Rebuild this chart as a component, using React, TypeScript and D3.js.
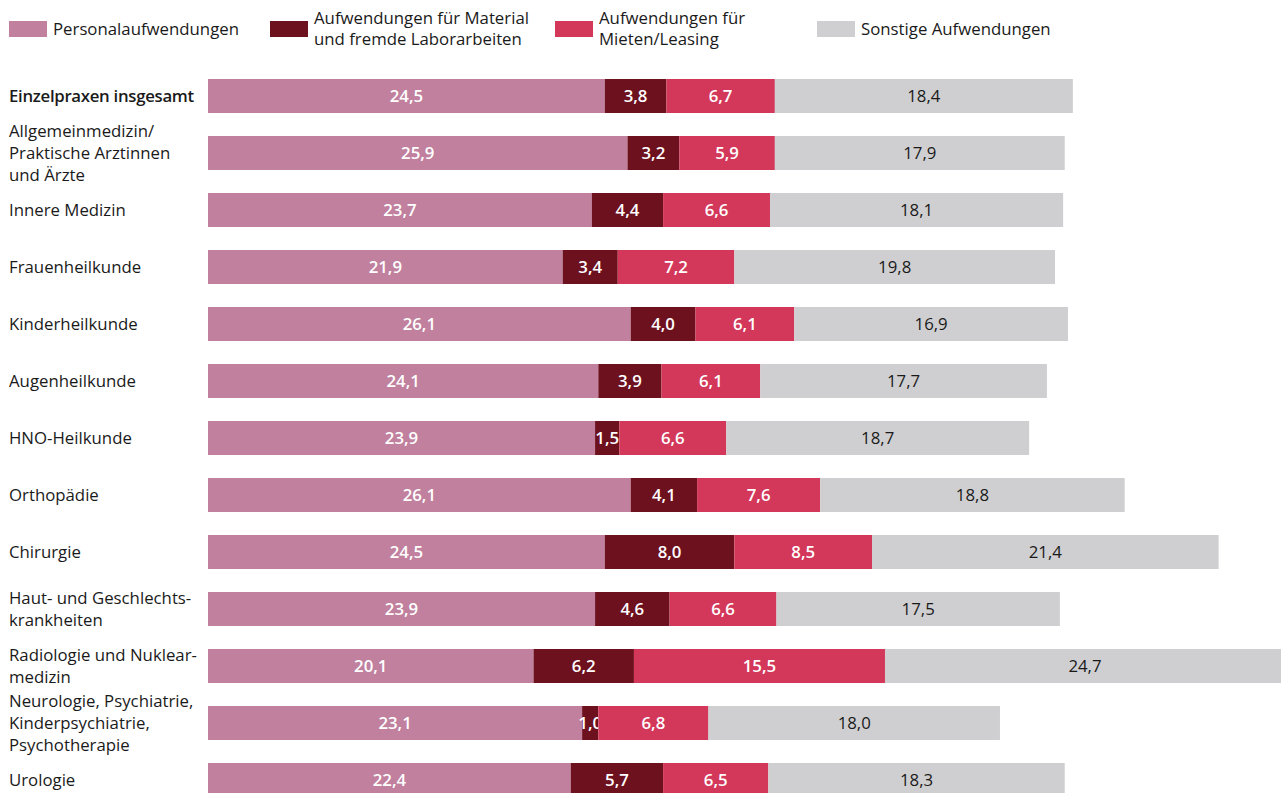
import React from 'react';
import * as d3 from 'd3';

const categories = [
  'Einzelpraxen insgesamt',
  'Allgemeinmedizin/\nPraktische Arztinnen\nund Ärzte',
  'Innere Medizin',
  'Frauenheilkunde',
  'Kinderheilkunde',
  'Augenheilkunde',
  'HNO-Heilkunde',
  'Orthopädie',
  'Chirurgie',
  'Haut- und Geschlechts-\nkrankheiten',
  'Radiologie und Nuklear-\nmedizin',
  'Neurologie, Psychiatrie,\nKinderpsychiatrie,\nPsychotherapie',
  'Urologie',
];

const seriesNames = [
  'Personalaufwendungen',
  'Aufwendungen für Material\nund fremde Laborarbeiten',
  'Aufwendungen für\nMieten/Leasing',
  'Sonstige Aufwendungen',
];

const personal = [24.5, 25.9, 23.7, 21.9, 26.1, 24.1, 23.9, 26.1, 24.5, 23.9, 20.1, 23.1, 22.4];
const material = [3.8, 3.2, 4.4, 3.4, 4.0, 3.9, 1.5, 4.1, 8.0, 4.6, 6.2, 1.0, 5.7];
const mieten = [6.7, 5.9, 6.6, 7.2, 6.1, 6.1, 6.6, 7.6, 8.5, 6.6, 15.5, 6.8, 6.5];
const sonstige = [18.4, 17.9, 18.1, 19.8, 16.9, 17.7, 18.7, 18.8, 21.4, 17.5, 24.7, 18.0, 18.3];

const colors = ['#c0809e', '#6e111f', '#d3375a', '#cfcfd1'];
const textColors = ['#ffffff', '#ffffff', '#ffffff', '#1a1a1a'];

const width = 1281;
const height = 793;
const font = '"Open Sans", sans-serif';
const fs = 16.8;

const locale = d3.formatLocale({ decimal: ',', thousands: '.', grouping: [3], currency: ['', ' €'] });
const fmt = locale.format('.1f');

export default function App() {
  const rows = categories.map((c, i) => ({ label: c, values: [personal[i], material[i], mieten[i], sonstige[i]] }));
  const stack = d3.stack<number[]>().keys(['0', '1', '2', '3']).value((d, k) => d[+k]);
  const series = stack(rows.map(r => r.values));

  const x = d3.scaleLinear().domain([0, 66.5]).range([208, 1285]);
  const y = d3.scaleBand<number>()
    .domain(d3.range(categories.length))
    .range([79 - 11.5, 79 - 11.5 + 57 * categories.length])
    .paddingInner(23 / 57)
    .paddingOuter(11.5 / 57);

  const legendX = [9, 270, 555, 817];

  return (
    <div>
      <style>{'body{margin:0}'}</style>
      <svg width={width} height={height} style={{ display: 'block', fontFamily: font }}>
        {seriesNames.map((name, k) => {
          const lines = name.split('\n');
          return (
            <g key={name} transform={`translate(${legendX[k]},0)`}>
              <rect x={0} y={21} width={38} height={16} fill={colors[k]} />
              {lines.map((l, j) => (
                <text key={j} x={44} y={29 + (j - (lines.length - 1) / 2) * 21} dy="0.35em" fontSize={fs} fill="#1a1a1a">
                  {l}
                </text>
              ))}
            </g>
          );
        })}

        {rows.map((r, i) => {
          const lines = r.label.split('\n');
          const cy = (y(i) as number) + y.bandwidth() / 2;
          return lines.map((l, j) => (
            <text key={`${i}-${j}`} x={9} y={cy + (j - (lines.length - 1) / 2) * 22} dy="0.35em"
              fontSize={fs} fill="#1a1a1a" fontWeight={i === 0 ? 600 : 400}
              letterSpacing={i === 0 ? -0.3 : 0}>
              {l}
            </text>
          ));
        })}

        {series.map((s, k) => (
          <g key={k}>
            {s.map((d, i) => (
              <rect key={i} x={x(d[0])} y={y(i)} width={x(d[1]) - x(d[0])} height={y.bandwidth()} fill={colors[k]} />
            ))}
            {s.map((d, i) => (
              <text key={`t${i}`} x={(x(d[0]) + x(d[1])) / 2} y={(y(i) as number) + y.bandwidth() / 2} dy="0.35em"
                textAnchor="middle" fontSize={fs} fontWeight={k < 3 ? 600 : 400} fill={textColors[k]}>
                {fmt(d[1] - d[0])}
              </text>
            ))}
          </g>
        ))}
      </svg>
    </div>
  );
}
